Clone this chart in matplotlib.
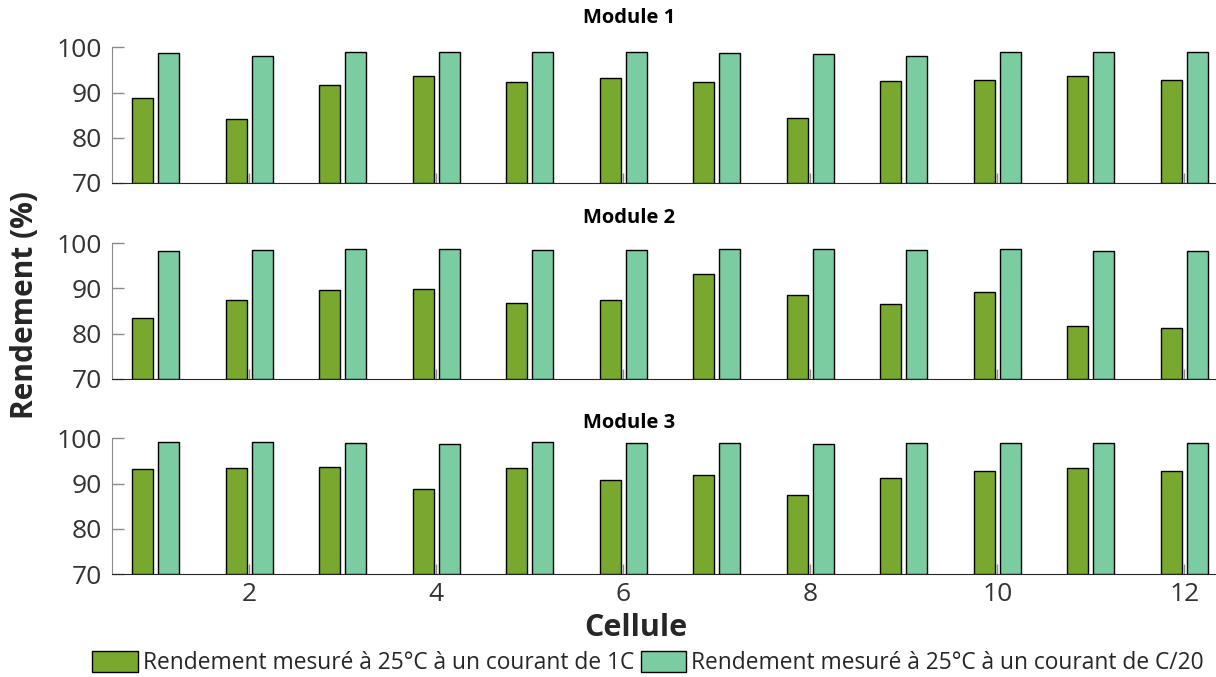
import numpy as np
import matplotlib.pyplot as plt
from matplotlib.patches import Patch

plt.rcParams['font.family'] = ['Open Sans', 'DejaVu Sans']

cells = np.arange(1, 13)
modules = ['Module 1', 'Module 2', 'Module 3']

# rendement a 1C
rend_1c = [
    [88.8, 84.1, 91.6, 93.6, 92.3, 93.2, 92.3, 84.3, 92.5, 92.7, 93.6, 92.7],
    [83.5, 87.4, 89.6, 89.8, 86.7, 87.4, 93.3, 88.5, 86.5, 89.2, 81.6, 81.3],
    [93.2, 93.5, 93.7, 88.8, 93.4, 90.7, 91.8, 87.4, 91.2, 92.7, 93.4, 92.7],
]
# rendement a C/20
rend_c20 = [
    [98.7, 98.0, 98.9, 98.9, 98.9, 98.9, 98.7, 98.5, 98.0, 98.9, 98.9, 98.9],
    [98.2, 98.4, 98.7, 98.7, 98.5, 98.5, 98.8, 98.7, 98.6, 98.7, 98.3, 98.2],
    [99.1, 99.1, 99.0, 98.8, 99.2, 98.9, 98.9, 98.8, 98.9, 98.9, 99.0, 98.9],
]

lab_1c = 'Rendement mesuré à 25°C à un courant de 1C'
lab_c20 = 'Rendement mesuré à 25°C à un courant de C/20'
c_green = '#78A82D'
c_teal = '#7BCDA1'

fig = plt.figure(figsize=(12.16, 6.77), dpi=100)

bottoms = [0.7297, 0.4402, 0.1521]
title_y = [1 - 18 / 677, 1 - 218 / 677, 1 - 423 / 677]
w = 0.225
axes = []
for i in range(3):
    ax = fig.add_axes([111.7 / 1216, bottoms[i], 1 - 111.7 / 1216, 0.2005])
    ax.bar(cells - 0.14, np.array(rend_1c[i]) - 70, w, bottom=70,
           color=c_green, edgecolor='black', linewidth=1, zorder=3)
    ax.bar(cells + 0.14, np.array(rend_c20[i]) - 70, w, bottom=70,
           color=c_teal, edgecolor='black', linewidth=1, zorder=3)
    ax.set_xlim(0.528, 12.34)
    ax.set_ylim(70, 100)
    ax.set_yticks([70, 80, 90, 100])
    ax.set_xticks([2, 4, 6, 8, 10, 12])
    ax.spines['top'].set_visible(False)
    ax.spines['right'].set_visible(False)
    ax.spines['left'].set_color('#8a8a8a')
    ax.spines['bottom'].set_color('#262626')
    ax.tick_params(axis='y', direction='in', length=8.5, width=1, color='#8a8a8a',
                   labelsize=19, labelcolor='#333333', pad=7)
    ax.tick_params(axis='x', direction='in', length=7.5, width=1, color='#8a8a8a',
                   labelsize=19, labelcolor='#333333', pad=6)
    if i < 2:
        ax.tick_params(axis='x', labelbottom=False)
    fig.text(629 / 1216, title_y[i], modules[i], ha='center', va='center',
             fontsize=14.5, fontweight='bold', color='black')
    axes.append(ax)

fig.text(25 / 1216, 0.549, 'Rendement (%)', rotation=90, ha='center', va='center',
         fontsize=21.5, fontweight='bold', color='#262626')
fig.text(636 / 1216, 0.072, 'Cellule', ha='center', va='center',
         fontsize=22, fontweight='bold', color='#262626')

handles = [Patch(facecolor=c_green, edgecolor='black', linewidth=1, label=lab_1c),
           Patch(facecolor=c_teal, edgecolor='black', linewidth=1, label=lab_c20)]
fig.legend(handles=handles, loc='center', bbox_to_anchor=(0.533, 0.020), ncol=2,
           frameon=False, fontsize=16.4, handlelength=2.0, handleheight=1.0,
           handletextpad=0.22, columnspacing=0.3, borderpad=0, borderaxespad=0,
           labelcolor='#262626')

fig.savefig('out.png', dpi=100)
